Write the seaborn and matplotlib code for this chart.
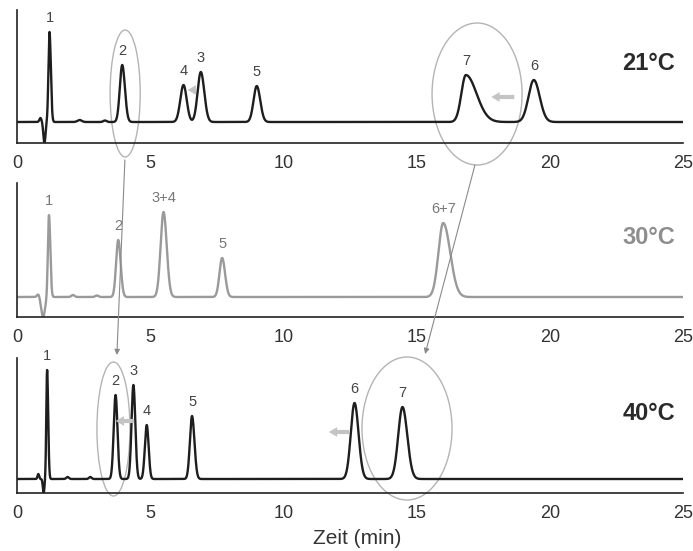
import numpy as np
import pandas as pd
import matplotlib.pyplot as plt
import seaborn as sns
from matplotlib.patches import Ellipse, ConnectionPatch
from matplotlib.ticker import MultipleLocator

sns.set_theme(style='white')
plt.rcParams['font.family'] = ['Liberation Sans', 'DejaVu Sans']

# peak tables (time in min, height in arbitrary units)
# 21 C
rt_21 = [1.22, 3.95, 6.25, 6.9, 9.0, 16.85, 19.4]
h_21 = [90, 57, 37, 50, 36, 47, 42]
sl_21 = [0.04, 0.09, 0.12, 0.12, 0.12, 0.17, 0.2]
sr_21 = [0.05, 0.10, 0.12, 0.13, 0.13, 0.40, 0.22]
lab_21 = ['1', '2', '4', '3', '5', '7', '6']
base_21 = 21
dist_21 = [(0.88, 4, 0.04), (1.03, -21, 0.04), (2.35, 2, 0.08), (3.3, 1.5, 0.06)]

# 30 C
rt_30 = [1.2, 3.8, 5.5, 7.7, 16.0]
h_30 = [82, 57, 85, 39, 74]
sl_30 = [0.04, 0.08, 0.11, 0.10, 0.18]
sr_30 = [0.05, 0.09, 0.12, 0.11, 0.26]
lab_30 = ['1', '2', '3+4', '5', '6+7']
base_30 = 20
dist_30 = [(0.8, 3, 0.05), (0.98, -20, 0.07), (2.1, 2, 0.06), (3.0, 1.5, 0.06)]

# 40 C
rt_40 = [1.13, 3.7, 4.37, 4.87, 6.57, 12.67, 14.47]
h_40 = [109, 84, 94, 54, 63, 76, 72]
sl_40 = [0.03, 0.07, 0.07, 0.07, 0.08, 0.14, 0.16]
sr_40 = [0.04, 0.07, 0.07, 0.07, 0.09, 0.15, 0.18]
lab_40 = ['1', '2', '3', '4', '5', '6', '7']
base_40 = 14
dist_40 = [(0.8, 5, 0.03), (1.0, -14, 0.03), (1.9, 2, 0.05), (2.75, 2, 0.05)]

temps = ['21°C', '30°C', '40°C']


def trace(base, rt, h, sl, sr, dist):
    t = np.linspace(0, 25, 5001)
    y = np.full_like(t, float(base))
    for r, a, s1, s2 in zip(rt, h, sl, sr):
        s = np.where(t < r, s1, s2)
        y += a * np.exp(-0.5 * ((t - r) / s) ** 2)
    for r, a, s in dist:
        y += a * np.exp(-0.5 * ((t - r) / s) ** 2)
    return pd.DataFrame({'t': t, 'signal': np.maximum(y, 0)})


fig = plt.figure(figsize=(6.93, 5.51), dpi=100)
W, H = 693, 551
# axes boxes in pixels: (axis line y, top y)
boxes = [(143, 10), (317, 183), (493, 358)]
axes = []
for yb, yt in boxes:
    ax = fig.add_axes([17 / W, (H - yb) / H, 666 / W, (yb - yt) / H])
    axes.append(ax)

panels = [
    (rt_21, h_21, sl_21, sr_21, lab_21, base_21, dist_21, '#1e1e1e', '#444444', '#2a2a2a'),
    (rt_30, h_30, sl_30, sr_30, lab_30, base_30, dist_30, '#9a9a9a', '#777777', '#8e8e8e'),
    (rt_40, h_40, sl_40, sr_40, lab_40, base_40, dist_40, '#1e1e1e', '#444444', '#2a2a2a'),
]

for ax, (yb, yt), p, temp in zip(axes, boxes, panels, temps):
    rt, h, sl, sr, lab, base, dist, lc, labc, tc = p
    df = trace(base, rt, h, sl, sr, dist)
    sns.lineplot(data=df, x='t', y='signal', ax=ax, color=lc, lw=1.7,
                 estimator=None, sort=False)
    ax.set_xlim(0, 25)
    ax.set_ylim(0, yb - yt)
    for r, a, l in zip(rt, h, lab):
        ax.text(r, base + a + 14, l, ha='center', va='center', fontsize=10.5, color=labc)
    ax.text(24.7, 79, temp, ha='right', va='center', fontsize=17,
            fontweight='bold', color=tc)
    ax.spines[['top', 'right']].set_visible(False)
    for s in ['left', 'bottom']:
        ax.spines[s].set_color('#222222')
        ax.spines[s].set_linewidth(1.2)
    ax.set_xticks([0, 5, 10, 15, 20, 25])
    ax.xaxis.set_minor_locator(MultipleLocator(2.5))
    ax.set_yticks([])
    ax.tick_params(axis='x', which='major', direction='in', length=7, width=1.1,
                   color='#222222', labelcolor='#333333', labelsize=13, pad=9)
    ax.tick_params(axis='x', which='minor', direction='in', length=3.5, width=1.0,
                   color='#222222')
    ax.set_xlabel('')
    ax.set_ylabel('')
    ax.patch.set_alpha(0)

ax1, ax2, ax3 = axes

# grey ellipses around the shifting peaks
ell_col = '#b4b4b4'
for ax, cx, cy, w, hh in [(ax1, 4.06, 49.5, 1.13, 127), (ax1, 17.27, 49, 3.38, 142),
                          (ax3, 3.62, 64, 1.24, 134), (ax3, 14.64, 64.5, 3.38, 143)]:
    ax.add_patch(Ellipse((cx, cy), w, hh, fill=False, ec=ell_col, lw=1.0, clip_on=False))

# arrows linking 21 C and 40 C
for xa, ya, xb, yb in [(4.05, -17, 3.75, 138), (17.19, -22, 15.32, 139)]:
    con = ConnectionPatch(xyA=(xa, ya), coordsA=ax1.transData,
                          xyB=(xb, yb), coordsB=ax3.transData,
                          arrowstyle='-|>', mutation_scale=8, color='#8a8a8a', lw=0.8)
    fig.add_artist(con)

# small shift arrows
for ax, x0, x1, y in [(ax1, 6.76, 6.3, 53), (ax1, 18.77, 17.7, 46),
                      (ax3, 4.5, 3.6, 72), (ax3, 12.57, 11.6, 61)]:
    ax.annotate('', xy=(x1, y), xytext=(x0, y),
                arrowprops=dict(arrowstyle='simple,head_width=0.7,head_length=0.6,tail_width=0.3',
                                fc='#c4c4c4', ec='none', mutation_scale=10),
                annotation_clip=False)

fig.text(357 / W, 1 - 539 / H, 'Zeit (min)', ha='center', va='center',
         fontsize=15, color='#333333')

fig.savefig('out.png', dpi=100)
